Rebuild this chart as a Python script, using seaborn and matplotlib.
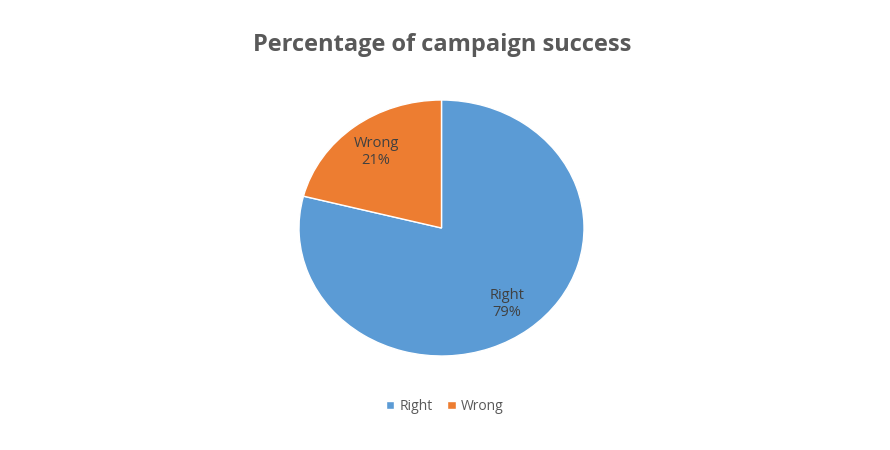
import matplotlib
matplotlib.use("Agg")
import matplotlib.pyplot as plt
import seaborn as sns

sns.set_theme(style="white")
plt.rcParams['font.family'] = ['Open Sans', 'DejaVu Sans']

categories = ["Right", "Wrong"]
shares = [79, 21]
colors = ["#5B9BD5", "#ED7D31"]

fig = plt.figure(figsize=(8.9, 4.5), dpi=100)
fig.patch.set_facecolor("white")
ax = fig.add_axes([299/890, 94/450, 285/890, 256/450])

labels = [f"{c}\n{v}%" for c, v in zip(categories, shares)]
wedges, texts = ax.pie(
    shares,
    labels=labels,
    colors=colors,
    startangle=90,
    counterclock=False,
    labeldistance=0.75,
    radius=1,
    textprops=dict(color="#404040", fontsize=10.5, ha="center", va="center"),
)
ax.set_aspect("auto")
ax.set_xlim(-1, 1)
ax.set_ylim(-1, 1)

fig.text(0.497, 0.9, "Percentage of campaign success", ha="center", va="center",
         fontsize=17, fontweight="bold", color="#595959")

fig.legend(wedges, categories, loc="center", bbox_to_anchor=(0.5, 0.097), ncol=2,
           frameon=False, fontsize=10, handlelength=0.6, handleheight=0.6,
           columnspacing=1.0, handletextpad=0.4, labelcolor="#595959")

fig.savefig("out.png", dpi=100)
